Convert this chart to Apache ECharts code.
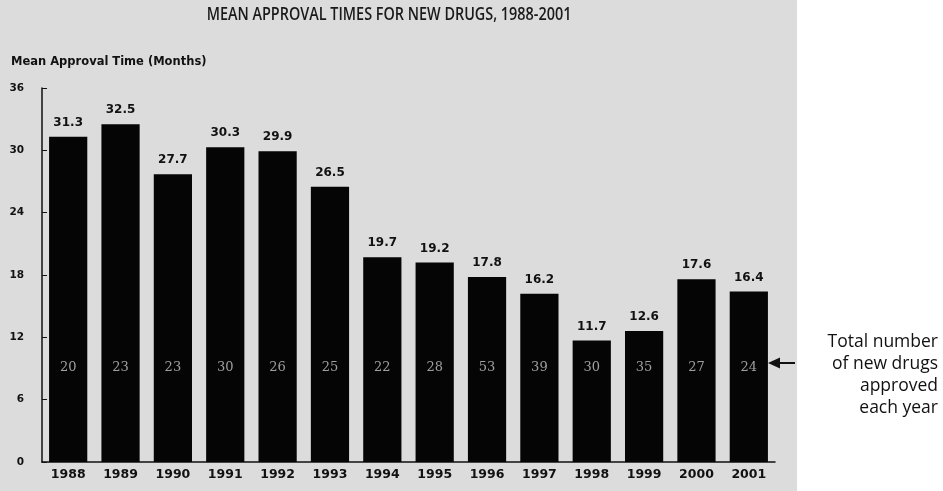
<!DOCTYPE html>
<html><head><meta charset="utf-8">
<script src="https://cdn.jsdelivr.net/npm/echarts@6/dist/echarts.min.js"></script>
<style>html,body{margin:0;padding:0;background:#fff}#c{width:943px;height:491px}</style>
</head><body><div id="c"></div>
<script>
const years = ['1988','1989','1990','1991','1992','1993','1994','1995','1996','1997','1998','1999','2000','2001'];
const meanMonths = [31.3,32.5,27.7,30.3,29.9,26.5,19.7,19.2,17.8,16.2,11.7,12.6,17.6,16.4];
const drugsApproved = [20,23,23,30,26,25,22,28,53,39,30,35,27,24];
const yTicks = [0,6,12,18,24,30,36];
const countLabelLevel = 9.1;
const titleText = 'MEAN APPROVAL TIMES FOR NEW DRUGS, 1988-2001';
const noteText = 'Total number\nof new drugs\napproved\neach year';

const chart = echarts.init(document.getElementById('c'));
chart.setOption({
  backgroundColor: '#ffffff',
  animation: false,
  grid: {left: 42, right: 168, top: 88, bottom: 29},
  xAxis: {
    type: 'category', data: years,
    axisLine: {lineStyle: {color: '#111', width: 1.5}},
    axisTick: {show: false},
    axisLabel: {fontFamily: 'DejaVu Sans', fontWeight: 'bold', fontSize: 12.5, color: '#111', margin: 6}
  },
  yAxis: {
    type: 'value', min: 0, max: 36, interval: 6,
    name: 'Mean Approval Time (Months)',
    nameLocation: 'end', nameGap: 20,
    nameTextStyle: {align: 'left', padding: [0,0,0,-31], fontFamily: 'DejaVu Sans', fontWeight: 'bold', fontSize: 11.5, color: '#111'},
    axisLine: {show: true, lineStyle: {color: '#111', width: 1.5}},
    axisTick: {show: true, inside: true, length: 5, lineStyle: {color: '#111'}},
    splitLine: {show: false},
    axisLabel: {fontFamily: 'DejaVu Sans', fontWeight: 'bold', fontSize: 10.5, color: '#111', margin: 18,
      formatter: v => yTicks.includes(v) ? String(v) : ''}
  },
  series: [
    {
      type: 'bar', data: meanMonths, barWidth: '73%',
      itemStyle: {color: '#050505'},
      label: {show: true, position: 'top', distance: 8, fontFamily: 'DejaVu Sans', fontWeight: 'bold', fontSize: 12, color: '#111',
        formatter: p => p.value.toFixed(1)}
    },
    {
      type: 'scatter', symbolSize: 0, z: 5,
      data: drugsApproved.map((n, i) => [i, countLabelLevel]),
      label: {show: true, position: 'inside', fontFamily: 'DejaVu Serif', fontSize: 13, color: '#c4c4c4',
        formatter: p => String(drugsApproved[p.dataIndex])}
    }
  ],
  graphic: [
    {type: 'rect', z: -10, silent: true, shape: {x: 0, y: 0, width: 797, height: 491}, style: {fill: '#dcdcdc'}},
    {type: 'text', x: 389, y: 15, scaleX: 0.8, style: {text: titleText, align: 'center', verticalAlign: 'middle',
      font: '600 18px "Open Sans"', fill: '#1a1a1a'}},
    {type: 'line', shape: {x1: 773, y1: 363, x2: 795, y2: 363}, style: {stroke: '#111', lineWidth: 2}},
    {type: 'polygon', shape: {points: [[768,363],[780,357.5],[780,368.5]]}, style: {fill: '#111'}},
    {type: 'text', x: 938, y: 331, style: {text: noteText, align: 'right', verticalAlign: 'top',
      font: '17.5px "Open Sans"', lineHeight: 22, fill: '#111'}}
  ]
});
</script></body></html>
